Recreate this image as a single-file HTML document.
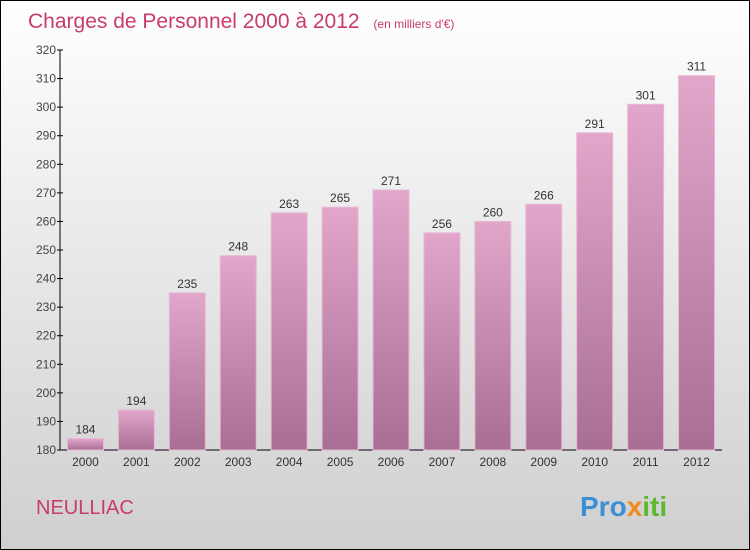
<!DOCTYPE html>
<html><head><meta charset="utf-8"><style>
body{margin:0}
svg{display:block;font-family:"Liberation Sans",sans-serif}
</style></head><body>
<svg width="750" height="550">
<defs>
<linearGradient id="bg" x1="0" y1="0" x2="0" y2="1"><stop offset="0" stop-color="#ffffff"/><stop offset="1" stop-color="#cfcfcf"/></linearGradient>
<linearGradient id="bar" x1="0" y1="0" x2="0" y2="1"><stop offset="0" stop-color="#e2a6cb"/><stop offset="1" stop-color="#a96e94"/></linearGradient>
</defs>
<rect x="0.5" y="0.5" width="749" height="549" fill="url(#bg)" stroke="#000"/>
<text x="28" y="28" font-size="21" fill="#c83c6c">Charges de Personnel 2000 à 2012 <tspan font-size="12" dx="8">(en milliers d'€)</tspan></text>
<text x="36" y="514" font-size="20" fill="#c83c6c">NEULLIAC</text>
<text x="580" y="516" font-size="28" font-weight="bold"><tspan fill="#3b8fd6">Pro</tspan><tspan fill="#f08a1c">x</tspan><tspan fill="#5fb82e">iti</tspan></text>
<g id="axes"></g>
<g id="bars"></g>
</svg>
<script>
const years=["2000","2001","2002","2003","2004","2005","2006","2007","2008","2009","2010","2011","2012"];
const values=[184,194,235,248,263,265,271,256,260,266,291,301,311];
const yTicks=[180,190,200,210,220,230,240,250,260,270,280,290,300,310,320];
const NS="http://www.w3.org/2000/svg";
const x0=60,x1=722,yTop=50,yBot=450,ymin=180,ymax=320;
const step=(x1-x0)/years.length;
function yS(v){return yBot-(v-ymin)/(ymax-ymin)*(yBot-yTop);}
function xC(i){return x0+step*(i+0.5);}
function mk(t,a,p){const e=document.createElementNS(NS,t);for(const k in a)e.setAttribute(k,a[k]);p.appendChild(e);return e;}
const ax=document.getElementById('axes'),bg=document.getElementById('bars');
let l=mk('line',{x1:x0,y1:yTop,x2:x0,y2:yBot,stroke:'#000'},ax);


l=mk('line',{x1:x0,y1:yBot,x2:x1,y2:yBot,stroke:'#000'},ax);


yTicks.forEach(v=>{
 mk('line',{x1:x0-3,x2:x0+3,y1:yS(v),y2:yS(v),stroke:'#000'},ax);
 const t=mk('text',{x:x0-4,y:yS(v)+4,'font-size':12,fill:'#444','text-anchor':'end'},ax);
 t.textContent=v;
 
 
});
years.forEach((yr,i)=>{
 const c=xC(i),w=36,v=values[i];
 const r=mk('rect',{x:c-w/2,y:yS(v),width:w,height:yBot-yS(v),fill:'url(#bar)',stroke:'#e8b8d6','stroke-width':1},bg);
 
 
 const t=mk('text',{x:c,y:yS(v)-5,'font-size':12,fill:'#333','text-anchor':'middle'},bg);
 t.textContent=v;
 
 
 const xl=mk('text',{x:c,y:466,'font-size':12,fill:'#333','text-anchor':'middle'},ax);
 xl.textContent=yr;
 
 
});
</script>
</body></html>
